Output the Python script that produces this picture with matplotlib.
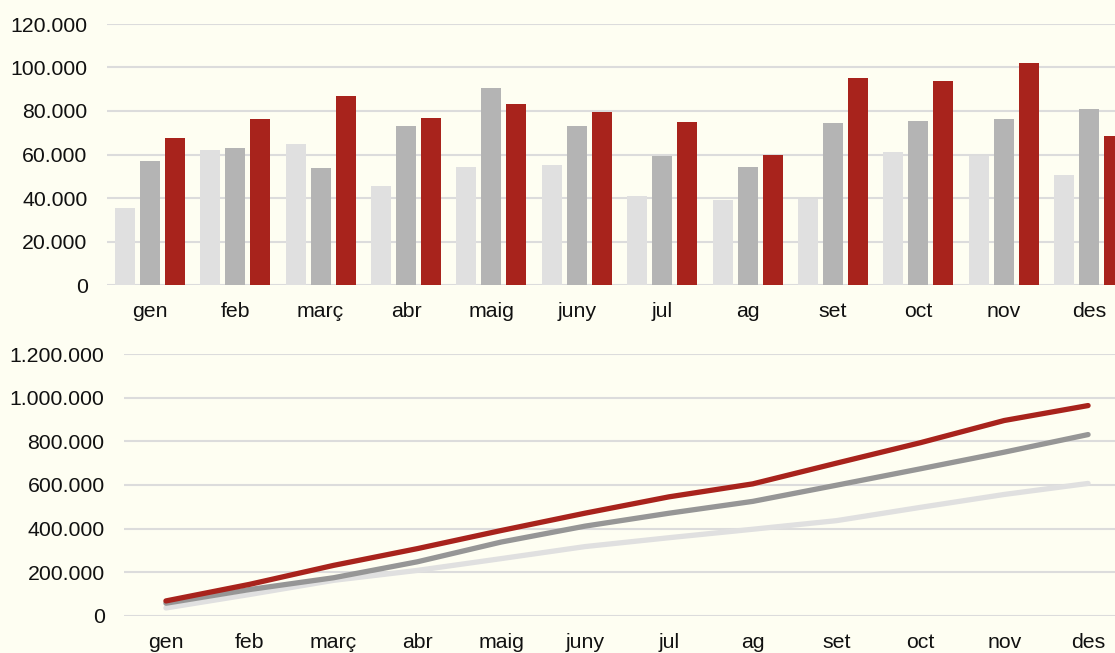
import matplotlib.pyplot as plt
import numpy as np

plt.rcParams['font.family'] = ['Liberation Sans', 'DejaVu Sans']

mesos = ['gen', 'feb', 'març', 'abr', 'maig', 'juny', 'jul', 'ag', 'set', 'oct', 'nov', 'des']

# valors mensuals llegits del gràfic
serie_clara = [35500, 62000, 64800, 45700, 54100, 55200, 40700, 38900, 39500, 61000, 59200, 50600]
serie_mitjana = [57200, 63000, 54000, 73300, 90700, 73000, 59200, 54400, 74300, 75300, 76300, 80800]
serie_vermella = [67800, 76300, 86900, 77000, 83100, 79600, 74900, 59600, 95200, 93800, 101900, 68600]

colors_barres = ['#E0E0E0', '#B4B4B4', '#A8231C']
colors_linies = ['#E0E0E0', '#969696', '#A8231C']
fons = '#FEFEF2'
graella = '#DCDCDC'


def format_punts(v, pos):
    return f'{int(round(v)):,}'.replace(',', '.')


def estil_eix(ax):
    ax.set_facecolor(fons)
    for s in ax.spines.values():
        s.set_visible(False)
    ax.yaxis.grid(True, color=graella, linewidth=1.5)
    ax.set_axisbelow(True)
    ax.tick_params(axis='both', length=0, labelsize=15.3, colors='#111111')
    ax.tick_params(axis='y', pad=14)
    ax.tick_params(axis='x', pad=12.5)
    ax.yaxis.set_major_formatter(plt.FuncFormatter(format_punts))


fig = plt.figure(figsize=(11.15, 6.53), dpi=100, facecolor=fons)
W, H = 1115, 653

# gràfic de barres mensual
ax1 = fig.add_axes([107 / W, 1 - 285 / H, (1132 - 107) / W, (285 - 24) / H])
x = np.arange(len(mesos))
amplada = 0.234
pas = 0.293
for i, serie in enumerate([serie_clara, serie_mitjana, serie_vermella]):
    ax1.bar(x + (i - 1) * pas, serie, width=amplada, color=colors_barres[i], zorder=2)
ax1.set_xlim(-0.5, 11.5)
ax1.set_ylim(0, 120000)
ax1.set_yticks(np.arange(0, 120001, 20000))
ax1.set_xticks(x)
ax1.set_xticklabels(mesos)
estil_eix(ax1)

# gràfic acumulat
ax2 = fig.add_axes([124 / W, 1 - 615.7 / H, (1130 - 124) / W, (615.7 - 354.3) / H])
for i, serie in enumerate([serie_clara, serie_mitjana, serie_vermella]):
    ax2.plot(x, np.cumsum(serie), color=colors_linies[i], linewidth=3.8,
             solid_capstyle='round', solid_joinstyle='round', zorder=2 + i)
ax2.set_xlim(-0.5, 11.5)
ax2.set_ylim(0, 1200000)
ax2.set_yticks(np.arange(0, 1200001, 200000))
ax2.set_xticks(x)
ax2.set_xticklabels(mesos)
estil_eix(ax2)

fig.savefig('out.png', dpi=100, facecolor=fons)
